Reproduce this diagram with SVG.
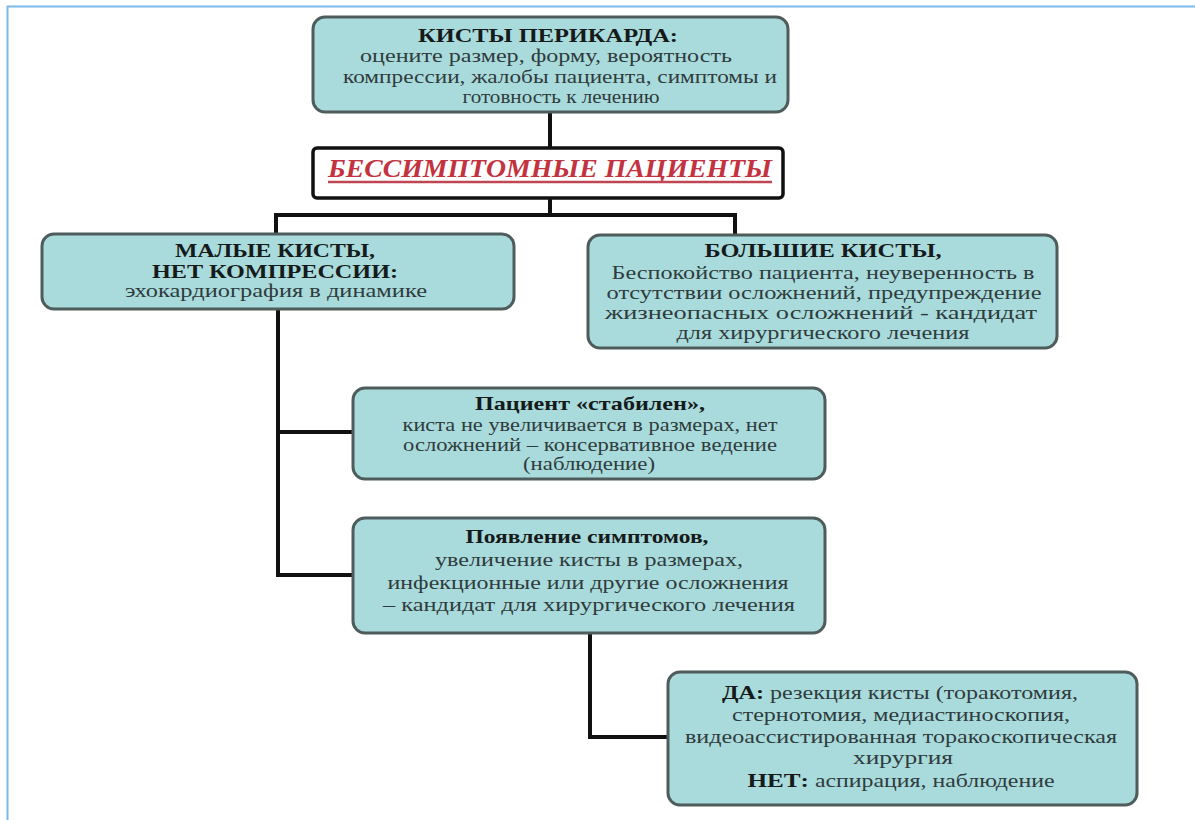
<svg xmlns="http://www.w3.org/2000/svg" width="1195" height="820" viewBox="0 0 1195 820">
<style>
.box{fill:#aadbdc;stroke:#4f5c5c;stroke-width:3}
.t{font-family:"Liberation Serif","Times New Roman",serif;font-size:18px;fill:#2f3c3d;text-anchor:middle}
.b{font-family:"Liberation Serif","Times New Roman",serif;font-size:19px;font-weight:bold;fill:#151a1a;text-anchor:middle}
.red{font-family:"Liberation Serif","Times New Roman",serif;font-size:26px;font-weight:bold;font-style:italic;fill:#c2323f;text-anchor:middle}
.ln{fill:none;stroke:#111;stroke-width:4}
</style>
<rect width="1195" height="820" fill="#ffffff"/>
<path d="M7.5 820 V6.5 H1195" fill="none" stroke="#7cb9e8" stroke-width="2"/>
<g id="connectors">
<path class="ln" d="M550 112 V148"/>
<path class="ln" d="M550 198 V215"/>
<path class="ln" d="M276 234 V215 H735 V236"/>
<path class="ln" d="M278 309 V575 H353"/>
<path class="ln" d="M278 432 H353"/>
<path class="ln" d="M590 633 V737 H668"/>
</g>
<g id="n-top">
<rect class="box" x="313" y="17" width="475" height="95" rx="12"/>
<text class="b" x="548" y="42" textLength="260" lengthAdjust="spacingAndGlyphs">КИСТЫ ПЕРИКАРДА:</text>
<text class="t" x="546" y="62" textLength="372" lengthAdjust="spacingAndGlyphs">оцените размер, форму, вероятность</text>
<text class="t" x="560" y="83" textLength="434" lengthAdjust="spacingAndGlyphs">компрессии, жалобы пациента, симптомы и</text>
<text class="t" x="561" y="103" textLength="197" lengthAdjust="spacingAndGlyphs">готовность к лечению</text>
</g>
<g id="n-asym">
<rect x="313" y="148" width="470" height="50" rx="4" fill="#ffffff" stroke="#111" stroke-width="3.5"/>
<text class="red" x="550" y="177" textLength="444" lengthAdjust="spacingAndGlyphs">БЕССИМПТОМНЫЕ ПАЦИЕНТЫ</text>
<line x1="328" y1="182" x2="772" y2="182" stroke="#c04553" stroke-width="2.5"/>
</g>
<g id="n-small">
<rect class="box" x="42" y="234" width="472" height="75" rx="12"/>
<text class="b" x="275" y="257" textLength="200" lengthAdjust="spacingAndGlyphs">МАЛЫЕ КИСТЫ,</text>
<text class="b" x="275" y="278" textLength="246" lengthAdjust="spacingAndGlyphs">НЕТ КОМПРЕССИИ:</text>
<text class="t" x="276" y="297" textLength="302" lengthAdjust="spacingAndGlyphs">эхокардиография в динамике</text>
</g>
<g id="n-large">
<rect class="box" x="588" y="235" width="469" height="113" rx="12"/>
<text class="b" x="823" y="257" textLength="237" lengthAdjust="spacingAndGlyphs">БОЛЬШИЕ КИСТЫ,</text>
<text class="t" x="823" y="279" textLength="423" lengthAdjust="spacingAndGlyphs">Беспокойство пациента, неуверенность в</text>
<text class="t" x="824" y="299" textLength="435" lengthAdjust="spacingAndGlyphs">отсутствии осложнений, предупреждение</text>
<text class="t" x="821" y="319" textLength="432" lengthAdjust="spacingAndGlyphs">жизнеопасных осложнений - кандидат</text>
<text class="t" x="823" y="339" textLength="293" lengthAdjust="spacingAndGlyphs">для хирургического лечения</text>
</g>
<g id="n-stable">
<rect class="box" x="353" y="388" width="472" height="91" rx="12"/>
<text class="b" x="590" y="410" textLength="230" lengthAdjust="spacingAndGlyphs">Пациент «стабилен»,</text>
<text class="t" x="590" y="431" textLength="375" lengthAdjust="spacingAndGlyphs">киста не увеличивается в размерах, нет</text>
<text class="t" x="590" y="451" textLength="374" lengthAdjust="spacingAndGlyphs">осложнений – консервативное ведение</text>
<text class="t" x="589" y="470" textLength="132" lengthAdjust="spacingAndGlyphs">(наблюдение)</text>
</g>
<g id="n-symptoms">
<rect class="box" x="353" y="518" width="472" height="115" rx="12"/>
<text class="b" x="587" y="543" textLength="243" lengthAdjust="spacingAndGlyphs">Появление симптомов,</text>
<text class="t" x="589" y="566" textLength="308" lengthAdjust="spacingAndGlyphs">увеличение кисты в размерах,</text>
<text class="t" x="588" y="589" textLength="401" lengthAdjust="spacingAndGlyphs">инфекционные или другие осложнения</text>
<text class="t" x="589" y="611" textLength="412" lengthAdjust="spacingAndGlyphs">– кандидат для хирургического лечения</text>
</g>
<g id="n-yesno">
<rect class="box" x="668" y="672" width="469" height="133" rx="12"/>
<text x="900" y="699" class="t" textLength="356" lengthAdjust="spacingAndGlyphs"><tspan font-weight="bold" fill="#151a1a">ДА:</tspan> резекция кисты (торакотомия,</text>
<text class="t" x="901" y="721" textLength="338" lengthAdjust="spacingAndGlyphs">стернотомия, медиастиноскопия,</text>
<text class="t" x="901" y="743" textLength="432" lengthAdjust="spacingAndGlyphs">видеоассистированная торакоскопическая</text>
<text class="t" x="903" y="764" textLength="100" lengthAdjust="spacingAndGlyphs">хирургия</text>
<text x="901" y="787" class="t" textLength="307" lengthAdjust="spacingAndGlyphs"><tspan font-weight="bold" font-size="19px" fill="#151a1a">НЕТ:</tspan> аспирация, наблюдение</text>
</g>
</svg>
